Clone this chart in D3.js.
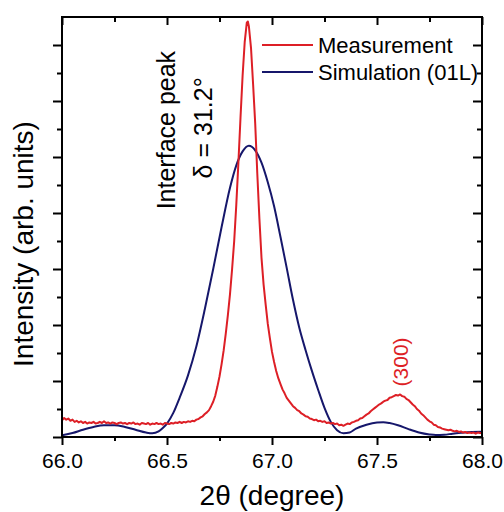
<!DOCTYPE html>
<html>
    <head>
        <title>XRD scan - interface peak</title>
        <script src="https://d3js.org/d3.v7.min.js"></script>
        <style>
            body { margin: 0; background: white; }
            svg text { font-family: Arial, "Liberation Sans", sans-serif; }
        </style>
    </head>
    <body>
        <svg id="myCanvas" width="504" height="512"></svg>

<script>
    // measured scan (red)
    var measTheta = [66.00,66.01,66.02,66.03,66.04,66.05,66.06,66.07,66.08,66.09,
        66.10,66.11,66.12,66.13,66.14,66.15,66.16,66.17,66.18,66.19,
        66.20,66.21,66.22,66.23,66.24,66.25,66.26,66.27,66.28,66.29,
        66.30,66.31,66.32,66.33,66.34,66.35,66.36,66.37,66.38,66.39,
        66.40,66.41,66.42,66.43,66.44,66.45,66.46,66.47,66.48,66.49,
        66.50,66.51,66.52,66.53,66.54,66.55,66.56,66.57,66.58,66.59,
        66.60,66.61,66.62,66.63,66.64,66.65,66.66,66.67,66.68,66.69,
        66.70,66.71,66.72,66.73,66.74,66.75,66.76,66.77,66.78,66.79,
        66.80,66.81,66.82,66.83,66.84,66.85,66.86,66.87,66.88,66.885,66.89,
        66.90,66.91,66.92,66.93,66.94,66.95,66.96,66.97,66.98,66.99,
        67.00,67.01,67.02,67.03,67.04,67.05,67.06,67.07,67.08,67.09,
        67.10,67.11,67.12,67.13,67.14,67.15,67.16,67.17,67.18,67.19,
        67.20,67.21,67.22,67.23,67.24,67.25,67.26,67.27,67.28,67.29,
        67.30,67.31,67.32,67.33,67.34,67.35,67.36,67.37,67.38,67.39,
        67.40,67.41,67.42,67.43,67.44,67.45,67.46,67.47,67.48,67.49,
        67.50,67.51,67.52,67.53,67.54,67.55,67.56,67.57,67.58,67.59,
        67.60,67.61,67.62,67.63,67.64,67.65,67.66,67.67,67.68,67.69,
        67.70,67.71,67.72,67.73,67.74,67.75,67.76,67.77,67.78,67.79,
        67.80,67.81,67.82,67.83,67.84,67.85,67.86,67.87,67.88,67.89,
        67.90,67.91,67.92,67.93,67.94,67.95,67.96,67.97,67.98,67.99,68.00]
    var measInt = [0.30,0.34,0.31,0.33,0.29,0.31,0.27,0.29,0.26,0.28,
        0.25,0.27,0.24,0.26,0.25,0.27,0.24,0.25,0.27,0.25,
        0.28,0.25,0.26,0.24,0.26,0.25,0.23,0.25,0.26,0.24,
        0.25,0.23,0.25,0.24,0.26,0.23,0.24,0.22,0.25,0.24,
        0.23,0.25,0.22,0.24,0.23,0.25,0.23,0.24,0.22,0.25,
        0.24,0.23,0.25,0.24,0.26,0.25,0.27,0.25,0.27,0.26,
        0.28,0.27,0.29,0.28,0.31,0.32,0.35,0.37,0.41,0.44,
        0.48,0.55,0.63,0.74,0.90,1.08,1.30,1.55,1.85,2.18,
        2.55,3.00,3.50,4.15,4.90,5.70,6.45,7.05,7.40,7.42,7.33,
        6.95,6.30,5.60,4.70,3.90,3.20,2.72,2.36,2.02,1.76,
        1.52,1.34,1.18,1.05,0.95,0.85,0.78,0.70,0.65,0.60,
        0.55,0.52,0.48,0.46,0.42,0.40,0.37,0.36,0.33,0.32,
        0.30,0.31,0.28,0.29,0.27,0.28,0.25,0.26,0.24,0.25,
        0.23,0.24,0.21,0.22,0.20,0.22,0.24,0.23,0.26,0.27,
        0.29,0.30,0.33,0.34,0.37,0.40,0.42,0.46,0.49,0.52,
        0.55,0.58,0.60,0.63,0.65,0.66,0.70,0.71,0.73,0.75,
        0.74,0.76,0.73,0.72,0.68,0.66,0.62,0.58,0.55,0.50,
        0.47,0.42,0.39,0.35,0.31,0.28,0.26,0.22,0.21,0.18,
        0.17,0.15,0.14,0.13,0.12,0.13,0.11,0.10,0.11,0.09,
        0.10,0.08,0.09,0.07,0.08,0.07,0.08,0.06,0.08,0.07,0.07]

    // simulation (blue)
    var simTheta = [66.00,66.05,66.10,66.15,66.20,66.25,66.30,66.35,66.40,66.43,66.46,
        66.48,66.50,66.53,66.56,66.60,66.64,66.68,66.72,66.76,66.80,66.83,66.86,66.89,
        66.92,66.95,66.98,67.01,67.04,67.07,67.10,67.13,67.16,67.19,67.22,67.25,67.28,67.31,
        67.34,67.37,67.40,67.45,67.50,67.53,67.56,67.60,67.65,67.70,67.75,67.78,67.82,67.86,
        67.90,67.95,68.00]
    var simInt = [0.03,0.07,0.13,0.18,0.21,0.21,0.18,0.13,0.08,0.065,0.10,
        0.16,0.24,0.43,0.70,1.10,1.62,2.28,3.00,3.75,4.45,4.85,5.10,5.20,
        5.12,4.90,4.55,4.12,3.58,3.02,2.45,1.95,1.55,1.18,0.84,0.52,0.27,0.12,
        0.066,0.08,0.15,0.22,0.26,0.265,0.25,0.21,0.14,0.08,0.045,0.035,0.04,0.06,
        0.075,0.09,0.095]

    var seriesNames = ["Measurement", "Simulation (01L)"]
    var seriesColors = ["#dd1f26", "#16176b"]
    var xMajor = [66.0, 66.5, 67.0, 67.5, 68.0]
    var xMinor = [66.25, 66.75, 67.25, 67.75]
    var yMajor = [0, 1, 2, 3, 4, 5, 6, 7]
    var yMinor = [0.5, 1.5, 2.5, 3.5, 4.5, 5.5, 6.5]

    var svg = d3.select("#myCanvas")
    var margin = {left: 62, top: 17, right: 22, bottom: 75}
    var w = 504 - margin.left - margin.right
    var h = 512 - margin.top - margin.bottom

    var x = d3.scaleLinear([66, 68], [0, w])
    var y = d3.scaleLinear([0, 7.5], [h, 0])

    var g = svg.append("g").attr("transform", "translate(" + margin.left + "," + margin.top + ")")

    var clip = svg.append("clipPath").attr("id", "plotclip")
    clip.append("rect").attr("width", w).attr("height", h)

    // curves
    var meas = measTheta.map((t, i) => [t, measInt[i]])
    var sim = simTheta.map((t, i) => [t, simInt[i]])

    var line = d3.line().x(d => x(d[0])).y(d => y(d[1]))

    g.append("path")
        .attr("d", line.curve(d3.curveMonotoneX)(sim))
        .attr("fill", "none")
        .attr("stroke", seriesColors[1])
        .attr("stroke-width", 2)
        .attr("clip-path", "url(#plotclip)")

    g.append("path")
        .attr("d", line.curve(d3.curveLinear)(meas))
        .attr("fill", "none")
        .attr("stroke", seriesColors[0])
        .attr("stroke-width", 2)
        .attr("stroke-linejoin", "round")
        .attr("clip-path", "url(#plotclip)")

    // axes - ticks out on bottom/left, in on top/right
    function styleAxis(a) {
        a.select(".domain").remove()
        a.selectAll("line").attr("stroke-width", 2)
        a.selectAll("text").attr("font-size", 21).attr("fill", "black")
    }

    g.append("g").attr("transform", "translate(0," + h + ")")
        .call(d3.axisBottom(x).tickValues(xMajor).tickSize(8).tickPadding(8).tickFormat(d3.format(".1f")))
        .call(styleAxis)
    g.append("g").attr("transform", "translate(0," + h + ")")
        .call(d3.axisBottom(x).tickValues(xMinor).tickSize(4).tickFormat(""))
        .call(styleAxis)
    g.append("g")
        .call(d3.axisBottom(x).tickValues(xMajor).tickSize(8).tickFormat(""))
        .call(styleAxis)
    g.append("g")
        .call(d3.axisBottom(x).tickValues(xMinor).tickSize(5).tickFormat(""))
        .call(styleAxis)

    g.append("g")
        .call(d3.axisLeft(y).tickValues(yMajor).tickSize(9).tickFormat(""))
        .call(styleAxis)
    g.append("g")
        .call(d3.axisLeft(y).tickValues(yMinor).tickSize(5).tickFormat(""))
        .call(styleAxis)
    g.append("g").attr("transform", "translate(" + w + ",0)")
        .call(d3.axisLeft(y).tickValues(yMajor).tickSize(9).tickFormat(""))
        .call(styleAxis)
    g.append("g").attr("transform", "translate(" + w + ",0)")
        .call(d3.axisLeft(y).tickValues(yMinor).tickSize(5).tickFormat(""))
        .call(styleAxis)

    g.append("rect")
        .attr("width", w).attr("height", h)
        .attr("fill", "none").attr("stroke", "black").attr("stroke-width", 2)

    // axis titles
    svg.append("text")
        .attr("transform", "translate(33," + (margin.top + h / 2 + 17) + ") rotate(-90)")
        .attr("text-anchor", "middle")
        .attr("font-size", 28)
        .text("Intensity (arb. units)")

    svg.append("text")
        .attr("x", margin.left + w / 2)
        .attr("y", 505)
        .attr("text-anchor", "middle")
        .attr("font-size", 28)
        .text("2\u03b8 (degree)")

    // legend
    var leg = g.selectAll(".leg").data(seriesNames).join("g")
        .attr("class", "leg")
        .attr("transform", (d, i) => "translate(200," + (28 + i * 27) + ")")
    leg.append("line")
        .attr("x1", 0).attr("x2", 51)
        .attr("stroke", (d, i) => seriesColors[i])
        .attr("stroke-width", 2)
    leg.append("text")
        .attr("x", 56).attr("y", 8)
        .attr("font-size", 22)
        .text(d => d)

    // annotations
    g.append("text")
        .attr("transform", "translate(" + x(66.538) + "," + y(5.48) + ") rotate(-90)")
        .attr("text-anchor", "middle")
        .attr("font-size", 25)
        .text("Interface peak")
    g.append("text")
        .attr("transform", "translate(" + x(66.714) + "," + y(5.52) + ") rotate(-90)")
        .attr("text-anchor", "middle")
        .attr("font-size", 25)
        .text("\u03b4 = 31.2\u00b0")
    g.append("text")
        .attr("transform", "translate(" + x(67.648) + "," + y(1.34) + ") rotate(-90)")
        .attr("text-anchor", "middle")
        .attr("font-size", 21)
        .attr("fill", seriesColors[0])
        .text("(300)")

</script>
</body>
</html>
